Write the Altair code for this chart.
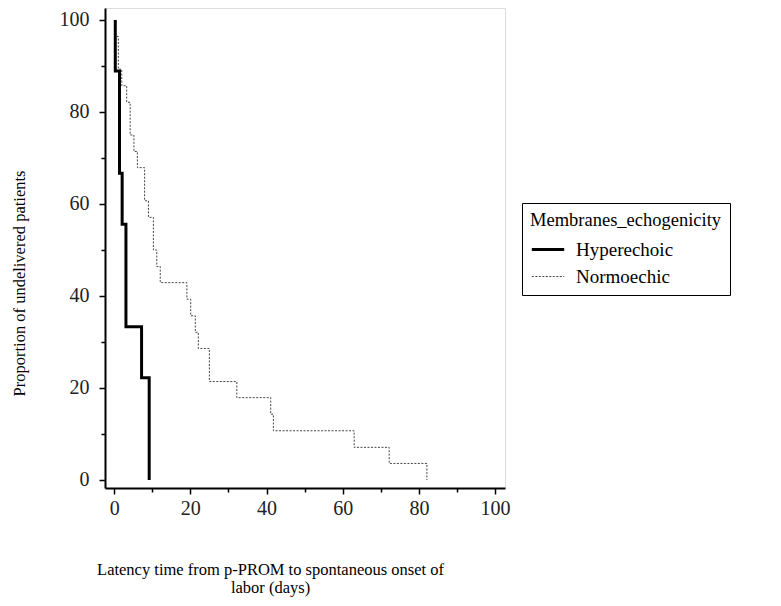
import altair as alt
import pandas as pd

# Kaplan-Meier style step data
hyper_days = [0.3, 0.3, 1.4, 2.1, 3.1, 7.2, 9.2]
hyper_pct = [100, 88.9, 66.7, 55.6, 33.3, 22.2, 0]

normo_days = [0.7, 1.1, 2.0, 3.3, 4.2, 5.2, 6.1, 8.0, 9.0, 10.3, 11.2, 12.1,
              19.1, 20.1, 21.3, 22.1, 25.0, 32.2, 41.1, 41.8, 63.0, 72.2, 82.1]
normo_pct = [96.4, 89.3, 85.7, 82.1, 75.0, 71.4, 67.9, 60.7, 57.1, 50.0, 46.4, 42.9,
             39.3, 35.7, 32.1, 28.6, 21.4, 17.9, 14.3, 10.7, 7.1, 3.6, 0]

groups = ["Hyperechoic", "Normoechic"]
major_ticks = [0, 20, 40, 60, 80, 100]
minor_ticks = [10, 30, 50, 70, 90]

rows = []
for i, (t, s) in enumerate(zip(hyper_days, hyper_pct)):
    rows.append({"group": groups[0], "day": t, "pct": s, "order": i})
for i, (t, s) in enumerate(zip(normo_days, normo_pct)):
    rows.append({"group": groups[1], "day": t, "pct": s, "order": i})
df = pd.DataFrame(rows)

SERIF = "Liberation Serif"
xscale = alt.Scale(domain=[-2.4, 102.6], nice=False, zero=False)
yscale = alt.Scale(domain=[-1.74, 102.6], nice=False, zero=False)

legend = alt.Legend(
    title="Membranes_echogenicity", orient="none", legendX=417, legendY=195,
    strokeColor="black", padding=8, titleFont=SERIF, titleFontSize=18.5,
    titleFontWeight="normal", titleColor="black", titleLimit=400,
    labelFont=SERIF, labelFontSize=19, labelLimit=300,
    labelColor="black", symbolType="stroke", symbolSize=1050, labelOffset=10,
    rowPadding=-10, titlePadding=2,
)

common_axis = dict(
    labelFont=SERIF, labelFontSize=20, labelColor="#222", tickColor="black",
    domainColor="black", domainWidth=2, tickWidth=1.5, grid=False,
    titleFont=SERIF, titleFontWeight="normal", titleColor="black",
)

main = alt.Chart(df).mark_line(interpolate="step-after").encode(
    x=alt.X("day:Q", scale=xscale, axis=alt.Axis(
        values=major_ticks, format="d", tickSize=6, labelPadding=4,
        title=["Latency time from p-PROM to spontaneous onset of", "labor  (days)"],
        titleFontSize=16.5, titleX=165, titleY=73, titleAlign="center",
        titleLineHeight=18, **common_axis)),
    y=alt.Y("pct:Q", scale=yscale, axis=alt.Axis(
        values=major_ticks, format="d", tickSize=6, labelPadding=10,
        title="Proportion of undelivered patients", titleFontSize=16.5,
        titleX=-78, titleY=275, titleAlign="center", **common_axis)),
    order="order:Q",
    detail="group:N",
    color=alt.Color("group:N", scale=alt.Scale(domain=groups, range=["black", "#444444"]), legend=legend),
    strokeDash=alt.StrokeDash("group:N", scale=alt.Scale(domain=groups, range=[[1, 0], [2, 1.5]]), legend=legend),
    strokeWidth=alt.StrokeWidth("group:N", scale=alt.Scale(domain=groups, range=[3, 1]), legend=legend),
)

minor = alt.Chart(df).mark_line(opacity=0).encode(
    x=alt.X("day:Q", scale=xscale, axis=alt.Axis(
        orient="bottom", values=minor_ticks, labels=False, domain=False, tickSize=4,
        tickWidth=1.5, tickColor="black", grid=False, title=None)),
    y=alt.Y("pct:Q", scale=yscale, axis=alt.Axis(
        orient="left", values=minor_ticks, labels=False, domain=False, tickSize=4,
        tickWidth=1.5, tickColor="black", grid=False, title=None)),
    detail="group:N",
)

chart = alt.layer(main, minor).resolve_axis(x="independent", y="independent").properties(
    width=400, height=480,
    autosize=alt.AutoSizeParams(type="none"),
    padding={"left": 97, "top": 0, "right": 268, "bottom": 110},
).configure_view(stroke=None).configure(background="white")

chart.save("out.html", embed_options={"renderer": "svg", "actions": False})
